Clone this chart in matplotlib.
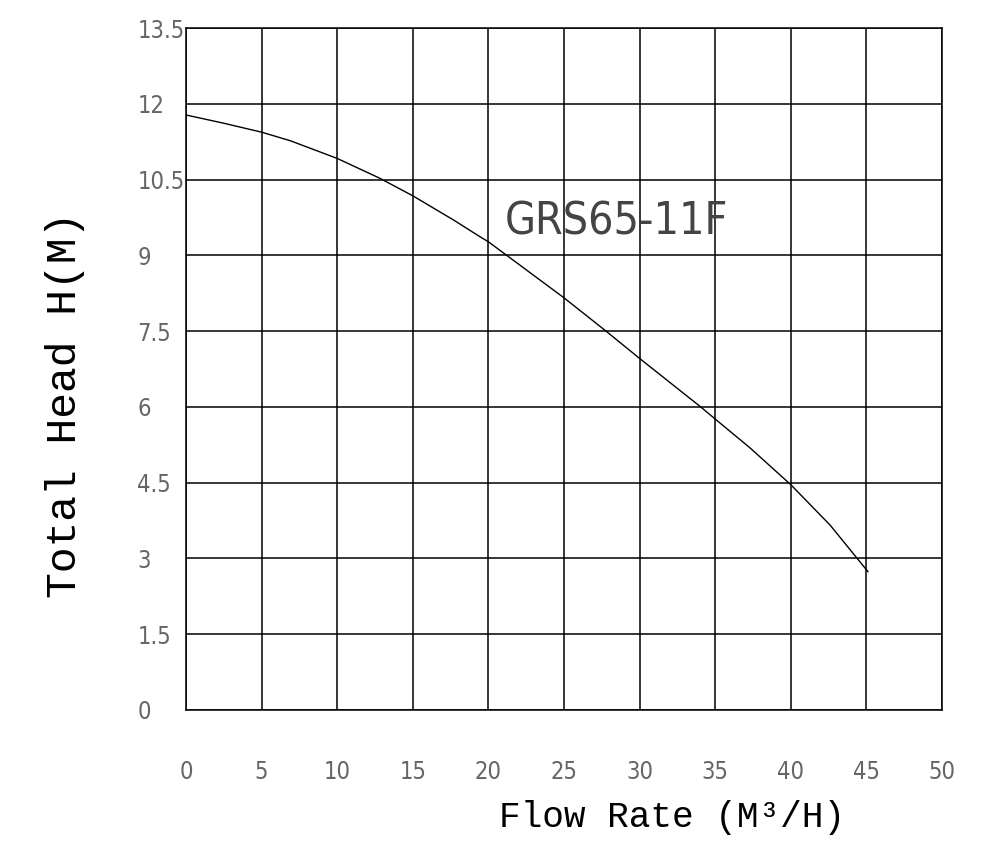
import matplotlib.pyplot as plt

# pump curve
flow = [0, 2.45, 5, 6.9, 10, 12.8, 15, 17.7, 19.44, 20, 25, 27.7, 30, 34.0, 35, 37.3, 40, 42.6, 45.1]
head = [11.78, 11.62, 11.44, 11.27, 10.92, 10.53, 10.18, 9.70, 9.37, 9.27, 8.16, 7.52, 6.96, 6.01, 5.76, 5.19, 4.46, 3.66, 2.74]

xticks = [0, 5, 10, 15, 20, 25, 30, 35, 40, 45, 50]
yticks = [0, 1.5, 3, 4.5, 6, 7.5, 9, 10.5, 12, 13.5]
ylabels = ['0', '1.5', '3', '4.5', '6', '7.5', '9', '10.5', '12', '13.5']
model = 'GRS65-11F'

fig = plt.figure(figsize=(10, 8.52), dpi=100)
ax = fig.add_axes([0.186, 0.1667, 0.756, 0.8003])

ax.plot(flow, head, color='black', linewidth=1.0)
ax.set_xlim(0, 50)
ax.set_ylim(0, 13.5)
ax.set_xticks(xticks)
ax.set_xticklabels([str(v) for v in xticks])
ax.set_yticks(yticks)
ax.set_yticklabels(ylabels)
ax.grid(True, color='black', linewidth=1.1)
for s in ax.spines.values():
    s.set_linewidth(1.1)

ax.tick_params(axis='both', length=0, labelcolor='#666666', labelsize=17)
ax.tick_params(axis='x', pad=36)
ax.tick_params(axis='y', pad=35)
for lab in ax.get_xticklabels() + ax.get_yticklabels():
    lab.set_fontfamily('DejaVu Sans')
    lab.set_fontstretch('condensed')
    lab.set_fontweight('light')
for lab in ax.get_yticklabels():
    lab.set_horizontalalignment('left')

ax.text(21.1, 9.66, model, fontsize=32, color='#444444', va='center',
        fontfamily='DejaVu Sans', fontstretch='condensed', fontweight='light')

fig.text(0.065, 0.525, 'Total Head H(M)', rotation=90, ha='center', va='center',
         fontsize=31, fontfamily='Liberation Mono')
fig.text(0.672, 0.04, 'Flow Rate (M³/H)', ha='center', va='center',
         fontsize=26, fontfamily='Liberation Mono')

fig.savefig('out.png', dpi=100)
